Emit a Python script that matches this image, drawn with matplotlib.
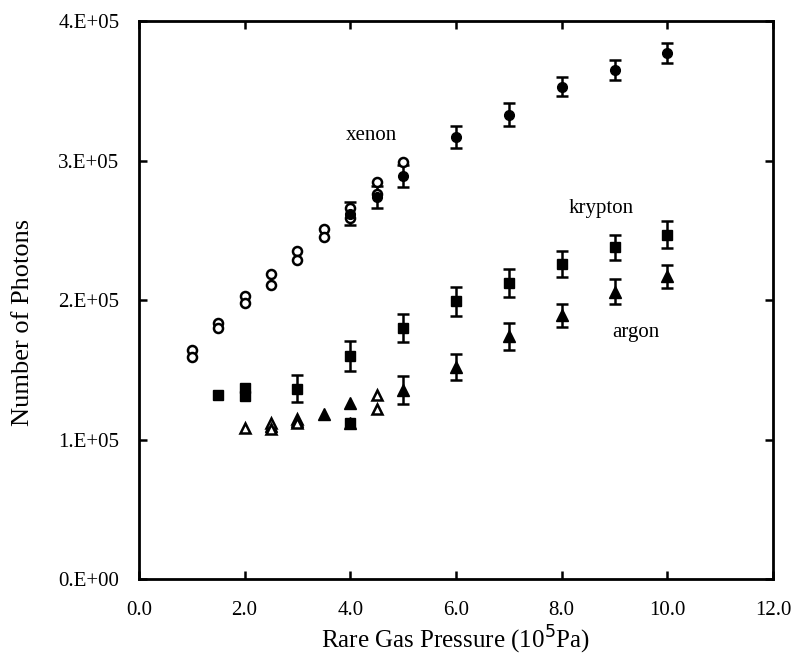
import matplotlib
matplotlib.use("Agg")
import matplotlib.pyplot as plt
import numpy as np

# xenon: open circles (low pressure, duplicate runs) and filled circles with error bars
xe_open_x = [1.0, 1.0, 1.5, 1.5, 2.0, 2.0, 2.5, 2.5, 3.0, 3.0, 3.5, 3.5, 4.0, 4.0, 4.5, 4.5, 5.0]
xe_open_y = [1.64, 1.59, 1.835, 1.80, 2.03, 1.98, 2.19, 2.11, 2.35, 2.29, 2.51, 2.45, 2.66, 2.59, 2.85, 2.76, 2.99]
xe_x = [4.0, 4.5, 5.0, 6.0, 7.0, 8.0, 9.0, 10.0]
xe_y = [2.62, 2.74, 2.89, 3.17, 3.33, 3.53, 3.65, 3.77]
xe_err = [0.08, 0.08, 0.08, 0.08, 0.08, 0.07, 0.07, 0.07]

# krypton: filled squares
kr_nb_x = [1.5, 2.0, 2.0, 4.0]
kr_nb_y = [1.32, 1.37, 1.31, 1.12]
kr_x = [3.0, 4.0, 5.0, 6.0, 7.0, 8.0, 9.0, 10.0]
kr_y = [1.365, 1.60, 1.80, 1.99, 2.12, 2.26, 2.38, 2.47]
kr_err = [0.095, 0.105, 0.10, 0.105, 0.10, 0.095, 0.09, 0.095]

# argon: open triangles at low pressure, filled triangles with error bars
ar_open_x = [2.0, 2.5, 2.5, 3.0, 3.0, 4.5, 4.5]
ar_open_y = [1.085, 1.12, 1.075, 1.15, 1.12, 1.32, 1.22]
ar_fill_x = [2.5, 3.0, 3.5, 4.0, 4.0]
ar_fill_y = [1.10, 1.13, 1.18, 1.26, 1.12]
ar_x = [5.0, 6.0, 7.0, 8.0, 9.0, 10.0]
ar_y = [1.355, 1.52, 1.74, 1.89, 2.06, 2.17]
ar_err = [0.10, 0.09, 0.095, 0.085, 0.09, 0.085]

x_ticks = [0, 2, 4, 6, 8, 10, 12]
y_ticks = [0, 1e5, 2e5, 3e5, 4e5]
y_labels = ["0.E+00", "1.E+05", "2.E+05", "3.E+05", "4.E+05"]

plt.rcParams["font.family"] = ["Liberation Serif", "DejaVu Serif"]

scale = 1e5
fig = plt.figure(figsize=(7.93, 6.61), dpi=100)
ax = fig.add_axes([0.175, 0.124, 0.800, 0.844])

eb = dict(fmt="none", ecolor="black", elinewidth=1.8, capsize=4.5, capthick=1.8)

ax.errorbar(xe_x, np.array(xe_y) * scale, yerr=np.array(xe_err) * scale, **eb)
ax.errorbar(kr_x, np.array(kr_y) * scale, yerr=np.array(kr_err) * scale, **eb)
ax.errorbar(ar_x, np.array(ar_y) * scale, yerr=np.array(ar_err) * scale, **eb)

ax.plot(xe_open_x, np.array(xe_open_y) * scale, "o", ms=6.5, mfc="white", mec="black", mew=1.8, ls="none")
ax.plot(xe_x, np.array(xe_y) * scale, "o", ms=7, color="black", ls="none")
ax.plot(kr_nb_x, np.array(kr_nb_y) * scale, "s", ms=7.5, color="black", ls="none")
ax.plot(kr_x, np.array(kr_y) * scale, "s", ms=7.5, color="black", ls="none")
ax.plot(ar_fill_x, np.array(ar_fill_y) * scale, "^", ms=8, color="black", ls="none")
ax.plot(ar_open_x, np.array(ar_open_y) * scale, "^", ms=7.5, mfc="white", mec="black", mew=1.8, ls="none")
ax.plot(ar_x, np.array(ar_y) * scale, "^", ms=8, color="black", ls="none")

ax.text(4.4, 3.18 * scale, "xenon", fontsize=15, ha="center", va="center")
ax.text(8.75, 2.66 * scale, "krypton", fontsize=15, ha="center", va="center")
ax.text(9.4, 1.77 * scale, "argon", fontsize=15, ha="center", va="center")

ax.set_xlim(0, 12)
ax.set_ylim(0, 4e5)
ax.set_xticks(x_ticks, [f"{v:.1f}" for v in x_ticks])
ax.set_yticks(y_ticks, y_labels)
ax.tick_params(direction="in", top=True, right=True, length=6, width=1.8, labelsize=15)
ax.tick_params(axis="x", pad=16)
ax.tick_params(axis="y", pad=14)
for s in ax.spines.values():
    s.set_linewidth(2)

ax.set_xlabel("Rare Gas Pressure (10$^5$Pa)", fontsize=18, labelpad=3)
ax.set_ylabel("Number of Photons", fontsize=19)
ax.yaxis.set_label_coords(-0.165, 0.46)

fig.savefig("out.png", dpi=100)
